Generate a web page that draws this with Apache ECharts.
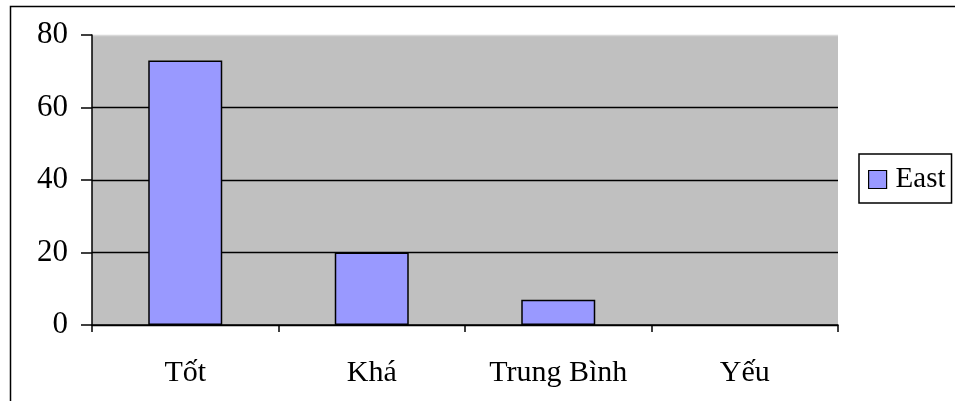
<!DOCTYPE html>
<html>
<head>
<meta charset="utf-8">
<script src="https://cdn.jsdelivr.net/npm/echarts@6/dist/echarts.min.js"></script>
<style>
  html, body { margin: 0; padding: 0; background: #fff; }
  #chart { width: 955px; height: 401px; }
</style>
</head>
<body>
<div id="chart"></div>
<script>
// Rating categories and the share of each (East)
const categories = ['Tốt', 'Khá', 'Trung Bình', 'Yếu'];
const eastValues = [73, 20, 7, 0];
const seriesName = 'East';
const yTicks = [0, 20, 40, 60, 80];

const FONT = '"Liberation Serif", "Times New Roman", serif';

const chart = echarts.init(document.getElementById('chart'), null, { renderer: 'canvas' });

// Zero-height bars draw nothing (no outline on the baseline)
const barData = eastValues.map(v => v === 0 ? { value: v, itemStyle: { borderWidth: 0, opacity: 0 } } : v);

chart.setOption({
  animation: false,
  backgroundColor: '#ffffff',
  textStyle: { fontFamily: FONT, color: '#000' },
  graphic: [{
    type: 'rect',
    shape: { x: 10.5, y: 6.5, width: 1000, height: 500 },
    style: { fill: 'none', stroke: '#000', lineWidth: 1.5 },
    z: -1
  }],
  grid: {
    left: 92, top: 35, right: 117, bottom: 76,
    show: true, backgroundColor: '#c0c0c0', borderWidth: 0
  },
  legend: {
    data: [seriesName],
    left: 859, top: 154,
    orient: 'vertical',
    backgroundColor: '#fff',
    borderColor: '#000', borderWidth: 1.5,
    padding: [11, 6, 9, 9],
    itemWidth: 18, itemHeight: 18, itemGap: 0,
    icon: 'rect',
    itemStyle: { borderColor: '#000', borderWidth: 1.2 },
    textStyle: { fontFamily: FONT, fontSize: 29, color: '#000', padding: [0, 0, 0, 4] }
  },
  xAxis: {
    type: 'category',
    data: categories,
    axisLine: { lineStyle: { color: '#000', width: 1.5 } },
    axisTick: { show: true, length: 7, alignWithLabel: false, lineStyle: { color: '#000', width: 1.5 } },
    axisLabel: { fontFamily: FONT, fontSize: 30, color: '#000', margin: 33 },
    splitLine: { show: false }
  },
  yAxis: {
    type: 'value',
    min: yTicks[0], max: yTicks[yTicks.length - 1], interval: 20,
    axisLine: { show: true, lineStyle: { color: '#000', width: 1.5 } },
    axisTick: { show: true, length: 11, lineStyle: { color: '#000', width: 1.5 } },
    axisLabel: { fontFamily: FONT, fontSize: 31, color: '#000', margin: 24 },
    splitLine: { show: true, lineStyle: { color: ['#000', '#000', '#000', '#000', '#d8d8d8'], width: 1.3 } }
  },
  series: [{
    name: seriesName,
    type: 'bar',
    data: barData,
    barWidth: 74,
    itemStyle: { color: '#9999ff', borderColor: '#000', borderWidth: 1.5 }
  }]
});
</script>
</body>
</html>
